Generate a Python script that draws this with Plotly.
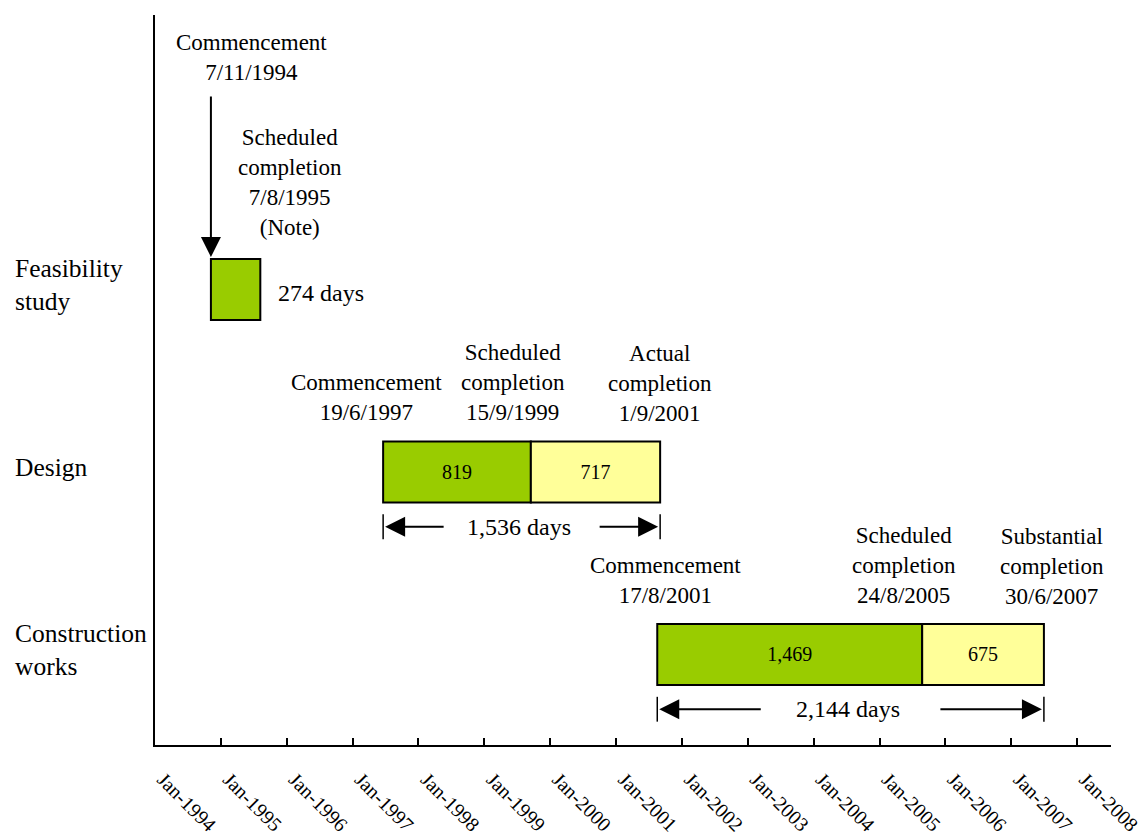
import pandas as pd
import plotly.graph_objects as go

# Project phases, bottom row first on the y axis (0 = bottom)
phases = ["Feasibility study", "Design", "Construction works"]
phase_labels = ["Feasibility<br>study", "Design", "Construction<br>works"]
row_pos = [2, 1, 0]

# Commencement dates and durations (days)
start_dates = ["1994-11-07", "1997-06-19", "2001-08-17"]
scheduled_days = [274, 819, 1469]
overrun_days = [0, 717, 675]
total_days = [274, 1536, 2144]

# Milestone captions
commence_text = ["Commencement<br>7/11/1994", "Commencement<br>19/6/1997", "Commencement<br>17/8/2001"]
scheduled_text = ["Scheduled<br>completion<br>7/8/1995<br>(Note)",
                  "Scheduled<br>completion<br>15/9/1999",
                  "Scheduled<br>completion<br>24/8/2005"]
finish_text = ["", "Actual<br>completion<br>1/9/2001", "Substantial<br>completion<br>30/6/2007"]
sched_end_dates = ["1995-08-07", "1999-09-15", "2005-08-24"]
finish_dates = ["", "2001-09-01", "2007-06-30"]

# Axis ticks
tick_years = list(range(1994, 2009))
tick_dates = [f"{y}-01-01" for y in tick_years]
x_range = ["1994-01-01", "2008-07-07"]

GREEN = "#99CC00"
YELLOW = "#FFFF99"
FONT = "Liberation Serif"
DAY_MS = 86400000
BAR_W = 0.334

starts = pd.to_datetime(start_dates)
overrun_base = [s + pd.Timedelta(days=d) for s, d in zip(starts, scheduled_days)]
bar_ends = [s + pd.Timedelta(days=t) for s, t in zip(starts, total_days)]

fig = go.Figure()

# Scheduled duration (green)
fig.add_trace(go.Bar(
    y=row_pos, x=[d * DAY_MS for d in scheduled_days], base=[s.strftime("%Y-%m-%d") for s in starts],
    orientation="h", width=BAR_W,
    marker=dict(color=GREEN, line=dict(color="black", width=2)),
    text=["" if o == 0 else f"{d:,}" for d, o in zip(scheduled_days, overrun_days)],
    textposition="inside", insidetextanchor="middle", textangle=0,
    constraintext="none",
    textfont=dict(family=FONT, size=20, color="black"),
    hoverinfo="skip", showlegend=False,
))

# Overrun beyond scheduled completion (yellow)
ov_idx = [i for i, o in enumerate(overrun_days) if o > 0]
fig.add_trace(go.Bar(
    y=[row_pos[i] for i in ov_idx],
    x=[overrun_days[i] * DAY_MS for i in ov_idx],
    base=[overrun_base[i].strftime("%Y-%m-%d") for i in ov_idx],
    orientation="h", width=BAR_W,
    marker=dict(color=YELLOW, line=dict(color="black", width=2)),
    text=[f"{overrun_days[i]:,}" for i in ov_idx],
    textposition="inside", insidetextanchor="middle", textangle=0,
    constraintext="none",
    textfont=dict(family=FONT, size=20, color="black"),
    hoverinfo="skip", showlegend=False,
))

annotations = []
shapes = []
txt = dict(family=FONT, size=23, color="black")

# Row labels on the left
for lbl, r in zip(phase_labels, row_pos):
    annotations.append(dict(
        text=lbl, xref="paper", yref="y", x=-0.1485, y=r, yshift=4,
        xanchor="left", yanchor="middle", align="left", showarrow=False,
        font=dict(family=FONT, size=25.5, color="black"),
    ))

# Feasibility study: captions, arrow and duration
annotations.append(dict(text=commence_text[0], x=start_dates[0], y=row_pos[0], xshift=41, yshift=232,
                        showarrow=False, font=txt, xanchor="center", yanchor="middle"))
annotations.append(dict(text=scheduled_text[0], x=sched_end_dates[0], y=row_pos[0], xshift=30, yshift=107,
                        showarrow=False, font=txt, xanchor="center", yanchor="middle"))
annotations.append(dict(text=f"{total_days[0]} days", x=bar_ends[0].strftime("%Y-%m-%d"), y=row_pos[0],
                        xshift=16, yshift=-4, showarrow=False, xanchor="left", yanchor="middle",
                        font=dict(family=FONT, size=24, color="black")))
annotations.append(dict(text="", x=start_dates[0], y=row_pos[0] + BAR_W / 2, xref="x", yref="y",
                        ax=0, ay=-164, showarrow=True, arrowhead=2, arrowsize=2, arrowwidth=2,
                        arrowcolor="black", standoff=2))

# Design and construction rows
commence_dx = [None, -17, 8]
finish_dx = [None, 0, 8]
span_dx = [None, 62, 105]
for i in (1, 2):
    r = row_pos[i]
    annotations.append(dict(text=commence_text[i], x=start_dates[i], y=r, xshift=commence_dx[i], yshift=74,
                            showarrow=False, font=txt, xanchor="center", yanchor="middle"))
    annotations.append(dict(text=scheduled_text[i], x=sched_end_dates[i], y=r, xshift=-18, yshift=89,
                            showarrow=False, font=txt, xanchor="center", yanchor="middle"))
    annotations.append(dict(text=finish_text[i], x=finish_dates[i], y=r, xshift=finish_dx[i], yshift=88,
                            showarrow=False, font=txt, xanchor="center", yanchor="middle"))

    # total duration span with arrows
    ys = r - 0.3
    mid = starts[i] + (bar_ends[i] - starts[i]) / 2
    annotations.append(dict(text=f"{total_days[i]:,} days", x=mid.strftime("%Y-%m-%d"), y=ys, xshift=-3,
                            showarrow=False, xanchor="center", yanchor="middle",
                            font=dict(family=FONT, size=24, color="black")))
    annotations.append(dict(text="", x=start_dates[i], y=ys, ax=span_dx[i], ay=0,
                            showarrow=True, arrowhead=2, arrowsize=2, arrowwidth=2,
                            arrowcolor="black", standoff=2))
    annotations.append(dict(text="", x=bar_ends[i].strftime("%Y-%m-%d"), y=ys, ax=-span_dx[i], ay=0,
                            showarrow=True, arrowhead=2, arrowsize=2, arrowwidth=2,
                            arrowcolor="black", standoff=2))
    for xe in (start_dates[i], bar_ends[i].strftime("%Y-%m-%d")):
        shapes.append(dict(type="line", xref="x", yref="y", x0=xe, x1=xe,
                           y0=ys - 0.068, y1=ys + 0.068, line=dict(color="black", width=1.5)))

fig.update_layout(
    width=1144, height=839,
    margin=dict(l=155, r=33, t=15, b=94),
    paper_bgcolor="white", plot_bgcolor="white",
    barmode="overlay",
    font=dict(family=FONT, color="black"),
    annotations=annotations, shapes=shapes,
    xaxis=dict(
        type="date", range=x_range, tickvals=tick_dates, tickformat="%b-%Y",
        tickangle=45, tickfont=dict(family=FONT, size=20, color="black"),
        ticks="inside", ticklen=7, tickwidth=2, tickcolor="black",
        showline=True, linecolor="black", linewidth=2, automargin=False,
        showgrid=False, zeroline=False, ticklabelstandoff=13, ticklabelshift=8,
        ticklabeloverflow="allow",
    ),
    yaxis=dict(
        range=[-0.496, 3.504], showline=True, linecolor="black", linewidth=2,
        showticklabels=False, ticks="", showgrid=False, zeroline=False, automargin=False,
    ),
)

fig.write_html("out.html")
